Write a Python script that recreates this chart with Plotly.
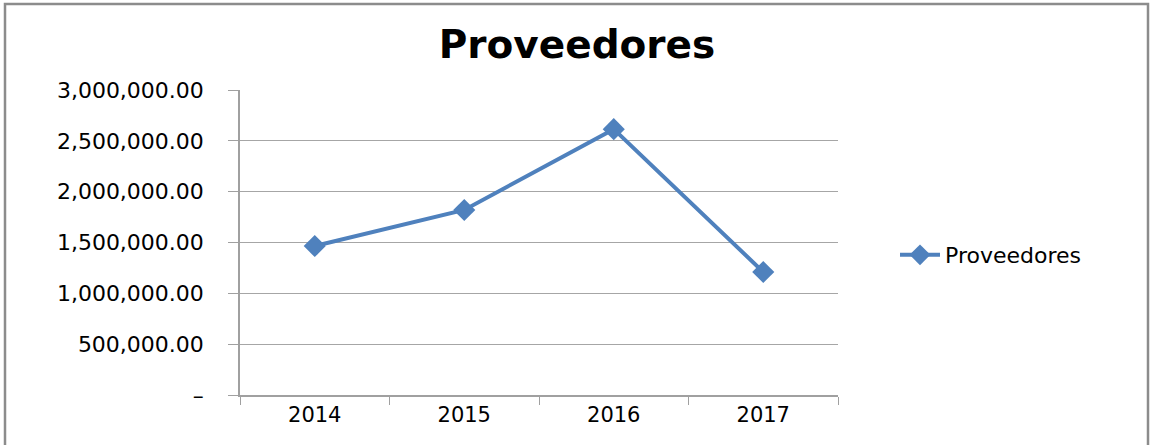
import plotly.graph_objects as go

years = ["2014", "2015", "2016", "2017"]
proveedores = [1465000, 1820000, 2615000, 1210000]
y_ticks = [0, 500000, 1000000, 1500000, 2000000, 2500000, 3000000]
y_labels = ["–", "500,000.00", "1,000,000.00", "1,500,000.00",
            "2,000,000.00", "2,500,000.00", "3,000,000.00"]

W, H = 1151, 445
L, R, T, B = 240, W - 838, 90, H - 395
pw, ph = W - L - R, H - T - B

fig = go.Figure()
fig.add_trace(go.Scatter(
    x=years, y=proveedores, name="Proveedores", mode="lines+markers",
    line=dict(color="#4F81BD", width=4),
    marker=dict(symbol="diamond", size=17, color="#4F81BD"),
))

fig.update_layout(
    width=W, height=H,
    margin=dict(l=L, r=R, t=T, b=B),
    paper_bgcolor="white", plot_bgcolor="white",
    font=dict(family="DejaVu Sans", color="black"),
    title=dict(text="<b>Proveedores</b>", x=577 / W, xref="container", xanchor="center",
               y=1 - 44 / H, yanchor="middle", font=dict(size=39)),
    showlegend=True,
    legend=dict(x=(895 - L) / pw, y=(395 - 255) / ph, xanchor="left", yanchor="middle",
                font=dict(size=22), itemwidth=40),
    xaxis=dict(
        type="category", range=[-0.5, 3.5], showgrid=False,
        showline=True, linecolor="#A0A0A0", linewidth=1.5,
        ticks="outside", tickson="boundaries", ticklen=8, tickcolor="#A0A0A0",
        tickfont=dict(size=21), fixedrange=True,
    ),
    yaxis=dict(
        range=[0, 3000000], tickvals=y_ticks, ticktext=y_labels,
        showgrid=True, gridcolor="#A6A6A6", gridwidth=1.2,
        showline=True, linecolor="#A0A0A0", linewidth=1.5,
        ticks="outside", ticklen=10, tickcolor="#A0A0A0",
        ticklabelstandoff=20, tickfont=dict(size=22), zeroline=False,
    ),
)

# outer chart border
fig.add_shape(type="rect", xref="paper", yref="paper",
              x0=(5 - L) / pw, x1=(1148 - L) / pw,
              y0=(395 - 447) / ph, y1=(395 - 4) / ph,
              line=dict(color="#8C8C8C", width=2.5), fillcolor="rgba(0,0,0,0)", layer="below")

fig.write_html("out.html", config={"displayModeBar": False},
               post_script="document.body.style.margin='0';")
